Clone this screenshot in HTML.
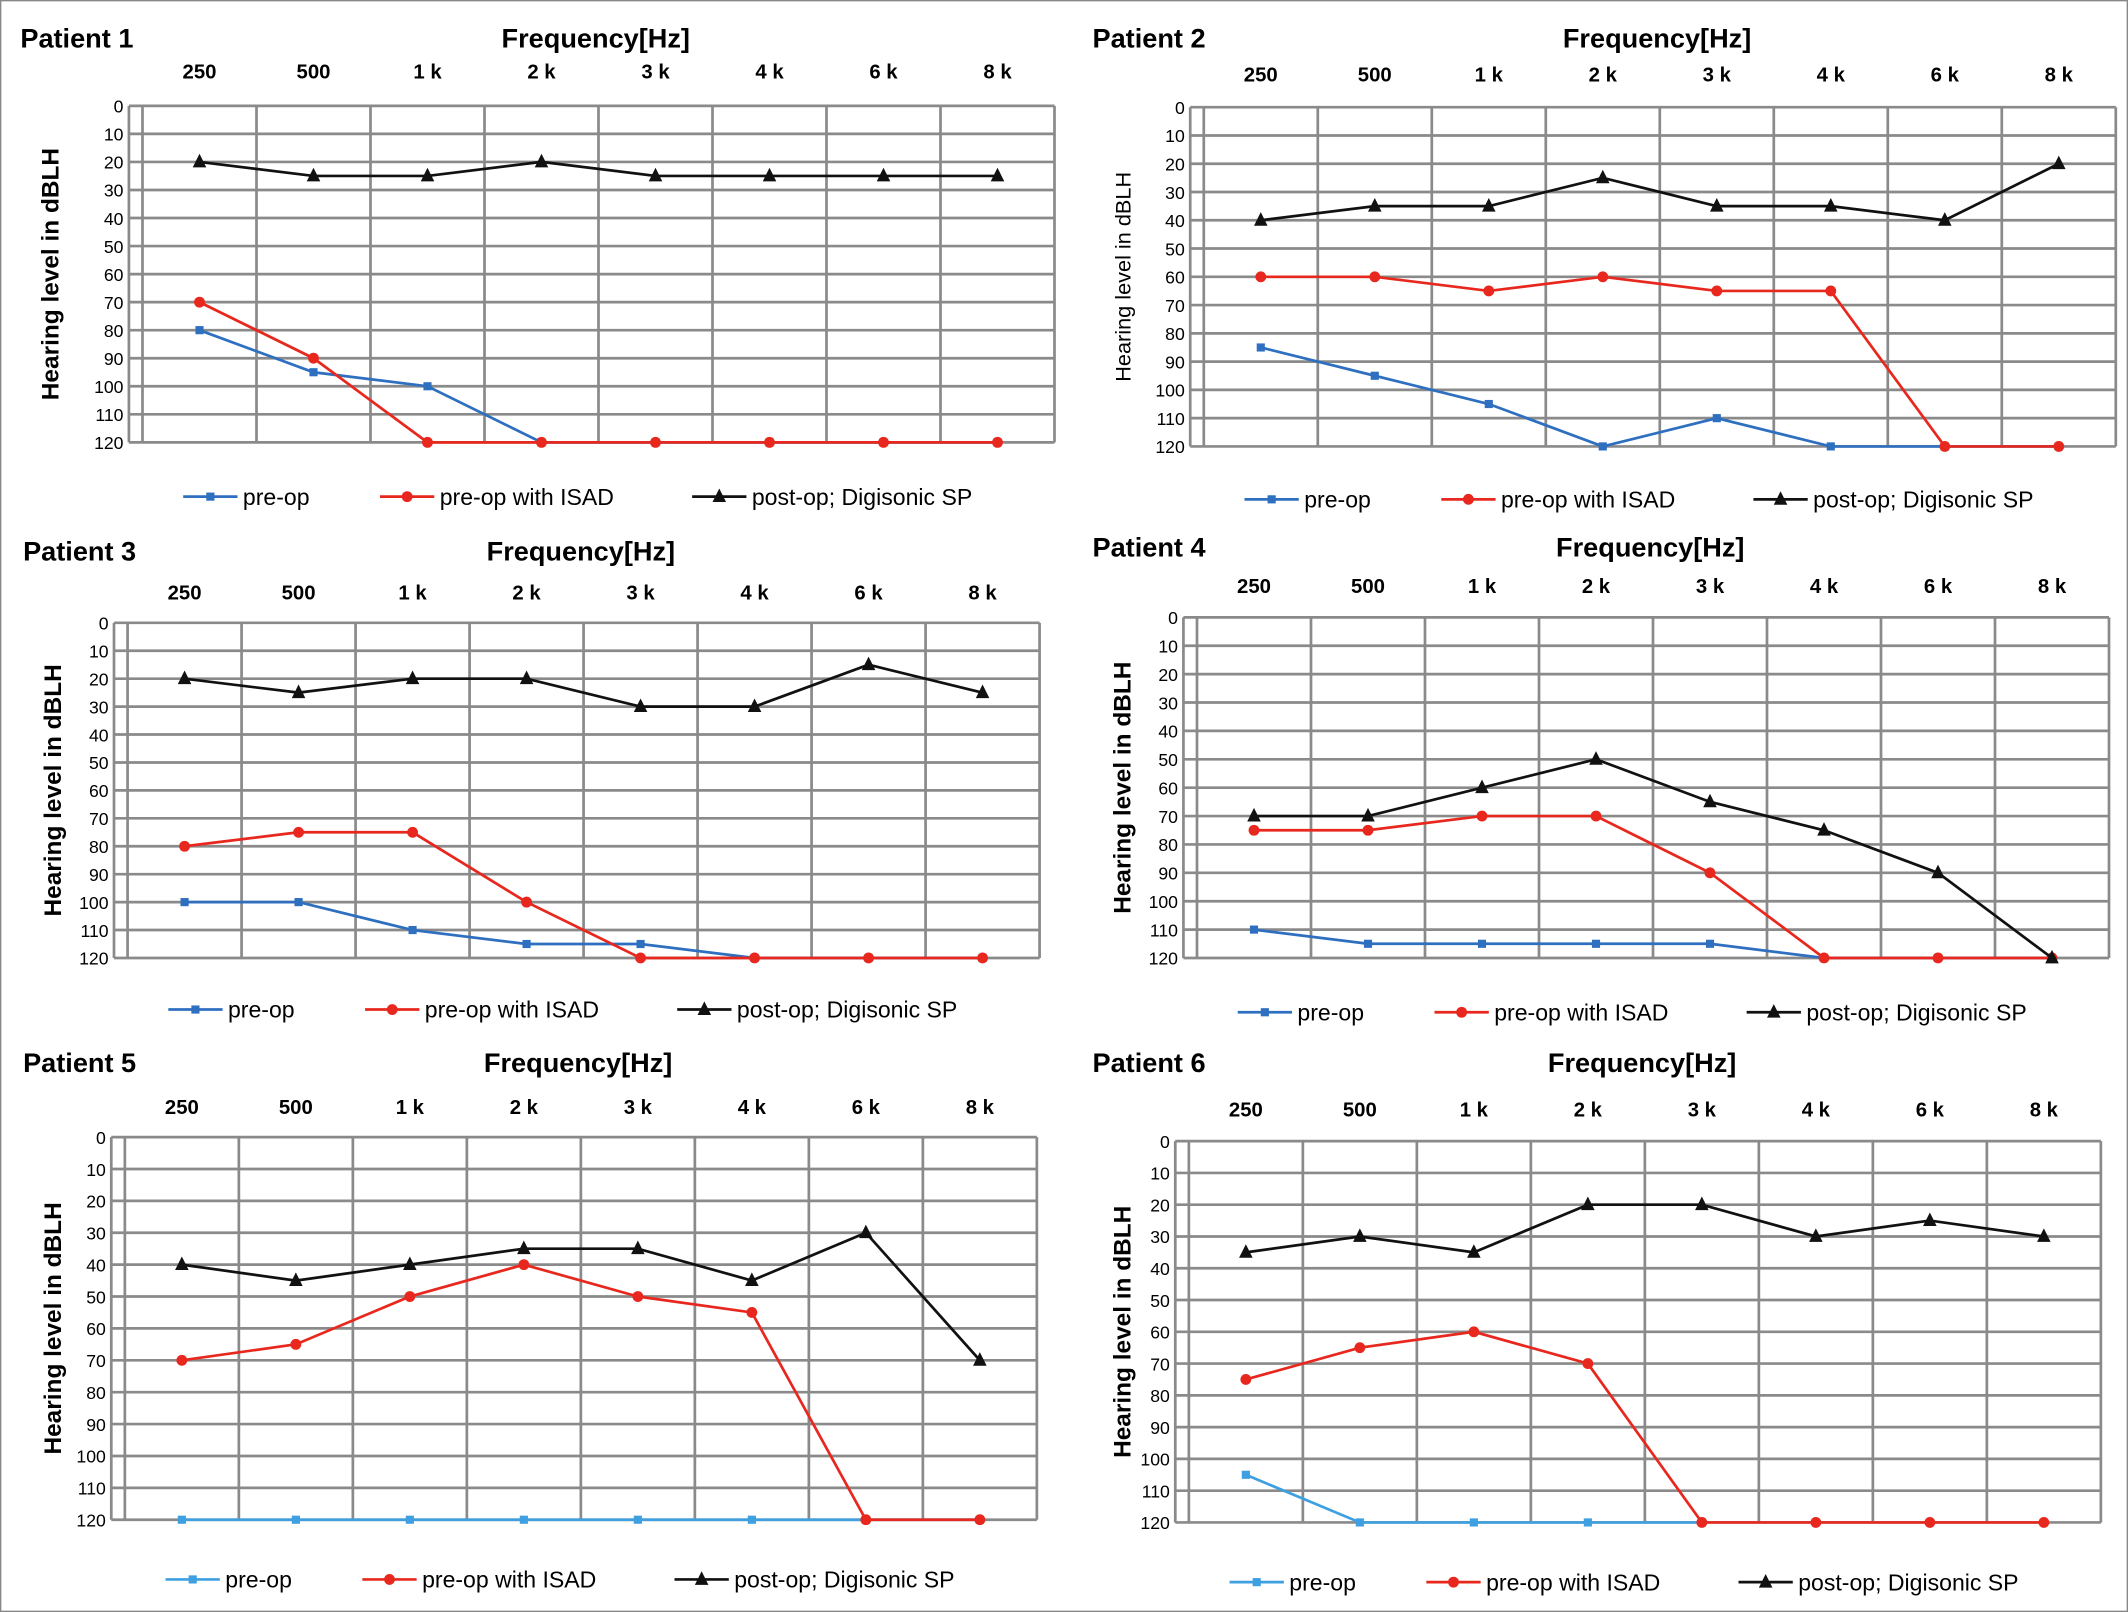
<!DOCTYPE html>
<html><head><meta charset="utf-8"><style>
body{margin:0;background:#fff;}
svg{display:block;font-family:"Liberation Sans",sans-serif;}
</style></head><body>
<svg id="c" width="2128" height="1612" viewBox="0 0 1568 1188" preserveAspectRatio="none" xmlns="http://www.w3.org/2000/svg">
<rect x="0.5" y="0.5" width="1567" height="1187" fill="#fff" stroke="#888"/>
</svg>
<script>
const freqLabels = ["250","500","1 k","2 k","3 k","4 k","6 k","8 k"];
const yTicks = [0,10,20,30,40,50,60,70,80,90,100,110,120];
const preOp = [
 [80,95,100,120,120,120,120,120],
 [85,95,105,120,110,120,120,120],
 [100,100,110,115,115,120,120,120],
 [110,115,115,115,115,120,120,120],
 [120,120,120,120,120,120,120,120],
 [105,120,120,120,120,null,null,null]
];
const preIsad = [
 [70,90,120,120,120,120,120,120],
 [60,60,65,60,65,65,120,120],
 [80,75,75,100,120,120,120,120],
 [75,75,70,70,90,120,120,120],
 [70,65,50,40,50,55,120,120],
 [75,65,60,70,120,120,120,120]
];
const postOp = [
 [20,25,25,20,25,25,25,25],
 [40,35,35,25,35,35,40,20],
 [20,25,20,20,30,30,15,25],
 [70,70,60,50,65,75,90,120],
 [40,45,40,35,35,45,30,70],
 [35,30,35,20,20,30,25,30]
];
const panels=[
 {L:105,T:78,B:326,tx:15,ty:35,fy:35,ly:58,lg:366,pb:"#2e6fc0"},
 {L:887,T:79,B:329,tx:805,ty:35,fy:35,ly:60,lg:368,pb:"#2e6fc0"},
 {L:94,T:459,B:706,tx:17,ty:413,fy:413,ly:442,lg:744,pb:"#2e6fc0"},
 {L:882,T:455,B:706,tx:805,ty:410,fy:410,ly:437,lg:746,pb:"#2e6fc0"},
 {L:92,T:838,B:1120,tx:17,ty:790,fy:790,ly:821,lg:1164,pb:"#3ea0e0"},
 {L:876,T:841,B:1122,tx:805,ty:790,fy:790,ly:823,lg:1166,pb:"#3ea0e0"}
];
const svg=document.getElementById('c');const NS="http://www.w3.org/2000/svg";
function mk(t,a,p,txt){const e=document.createElementNS(NS,t);for(const k in a)e.setAttribute(k,a[k]);if(txt!=null)e.textContent=txt;(p||svg).appendChild(e);return e;}
panels.forEach((P,i)=>{
 const g=mk('g',{});
 
 
 const W=84,R=P.L+8*W;
 const x=k=>P.L+W/2+k*W, y=v=>P.T+(P.B-P.T)*v/120;
 let t=mk('text',{x:P.tx,y:P.ty,'font-size':20,'font-weight':'bold'},g,'Patient '+(i+1));
 
 t=mk('text',{x:(P.L+R)/2-2,y:P.fy,'font-size':20,'font-weight':'bold','text-anchor':'middle'},g,'Frequency[Hz]');
 
 freqLabels.forEach((f,k)=>{const e=mk('text',{x:x(k),y:P.ly,'font-size':15,'font-weight':'bold','text-anchor':'middle'},g,f);
  });
 yTicks.forEach(v=>{mk('line',{x1:P.L-10,x2:R,y1:y(v),y2:y(v),stroke:'#8a8a8a','stroke-width':2},g);
  const e=mk('text',{x:P.L-14,y:y(v)+5,'font-size':13,'text-anchor':'end'},g,v);
  });
 for(let k=0;k<=8;k++)mk('line',{x1:P.L+k*W,x2:P.L+k*W,y1:P.T,y2:P.B,stroke:'#8a8a8a','stroke-width':2},g);
 mk('line',{x1:P.L-10,x2:P.L-10,y1:P.T,y2:P.B,stroke:'#8a8a8a','stroke-width':2},g);
 const cy=(P.T+P.B)/2;
 t=mk('text',{x:44,y:cy,'font-size':i==1?16:18,'font-weight':i==1?'normal':'bold','text-anchor':'middle',transform:`rotate(-90 ${P.tx+28} ${cy})`},g,'Hearing level in dBLH');
 t.setAttribute('x',P.tx+28);
 
 const series=[[preOp[i],P.pb,'sq','pre-op'],[preIsad[i],'#e8281e','ci','pre-op with ISAD'],[postOp[i],'#111','tr','post-op; Digisonic SP']];
 series.forEach(([d,c,m,name],s)=>{
  const pts=d.map((v,k)=>v==null?null:[x(k),y(v)]).filter(p=>p);
  const pl=mk('polyline',{points:pts.map(p=>p.join(',')).join(' '),fill:'none',stroke:c,'stroke-width':2},g);
  
  pts.forEach(p=>{let e;
   if(m=='sq')e=mk('rect',{x:p[0]-3,y:p[1]-3,width:6,height:6,fill:c},g);
   else if(m=='ci')e=mk('circle',{cx:p[0],cy:p[1],r:4,fill:c},g);
   else e=mk('polygon',{points:`${p[0]},${p[1]-6} ${p[0]-5},${p[1]+4} ${p[0]+5},${p[1]+4}`,fill:c},g);
   });
 });
 const lx=[P.L+30,P.L+175,P.L+405];
 series.forEach(([d,c,m,name],s)=>{
  const X=lx[s],Y=P.lg;
  mk('line',{x1:X,x2:X+40,y1:Y,y2:Y,stroke:c,'stroke-width':2},g);
  if(m=='sq')mk('rect',{x:X+17,y:Y-3,width:6,height:6,fill:c},g);
  else if(m=='ci')mk('circle',{cx:X+20,cy:Y,r:4,fill:c},g);
  else mk('polygon',{points:`${X+20},${Y-6} ${X+15},${Y+4} ${X+25},${Y+4}`,fill:c},g);
  const e=mk('text',{x:X+44,y:Y+6,'font-size':17},g,name);
  
 });
});
</script>
</body></html>
